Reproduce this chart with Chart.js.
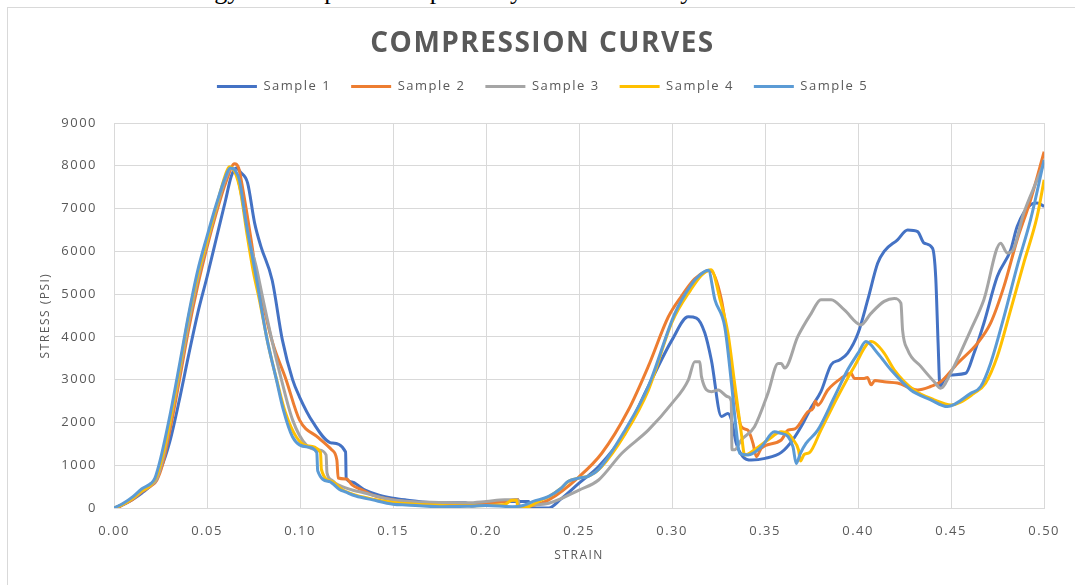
<!DOCTYPE html>
<html>
<head>
<meta charset="utf-8">
<script src="https://cdn.jsdelivr.net/npm/chart.js@4.4.1/dist/chart.umd.min.js"></script>
<style>
html, body { margin: 0; padding: 0; background: #fff; overflow: hidden; }
#frame { position: absolute; left: 7px; top: 7px; width: 1100px; height: 620px; border: 1px solid #d9d9d9; }
#cut { position: absolute; left: 0; top: -24px; width: 1075px; height: 40px; font: 26px "Liberation Serif", serif; color: #000; }
#cut span { position: absolute; top: 0; white-space: nowrap; }
#wrap { position: absolute; left: 0; top: 0; width: 1075px; height: 585px; }
</style>
</head>
<body>
<div id="cut"><span style="left:170px">energy</span> <span style="left:268px">absorption</span> <span style="left:385px">compared</span> <span style="left:497px">by</span> <span style="left:560px">the</span> <span style="left:647px">very</span></div>
<div id="frame"></div>
<div id="wrap"><canvas id="compChart"></canvas></div>
<script>
// values
var sampleNames = ['Sample 1', 'Sample 2', 'Sample 3', 'Sample 4', 'Sample 5'];
var sampleColors = ['#4472C4', '#ED7D31', '#A5A5A5', '#FFC000', '#5B9BD5'];

var s1Strain = [0,0.005,0.01,0.015,0.021,0.025,0.03,0.035,0.04,0.045,0.05,0.055,0.06,0.063,0.0657,0.068,0.0718,0.0756,0.079,0.085,0.0905,0.096,0.0997,0.107,0.117,0.1245,0.1248,0.128,0.132,0.135,0.1425,0.15,0.157,0.175,0.189,0.192,0.2,0.2085,0.223,0.2235,0.2337,0.24,0.25,0.2605,0.2747,0.2872,0.30,0.3087,0.3131,0.3176,0.3211,0.3265,0.33,0.3319,0.3345,0.3381,0.3426,0.35,0.3587,0.365,0.370,0.3748,0.380,0.3855,0.390,0.3944,0.40,0.4052,0.4105,0.414,0.4212,0.4266,0.432,0.4355,0.44,0.4417,0.443,0.444,0.4462,0.4497,0.4578,0.4623,0.4676,0.4748,0.482,0.4855,0.4927,0.4962,0.50];
var s1Stress = [0,80,200,350,585,900,1550,2500,3550,4550,5400,6300,7200,7750,7950,7850,7600,6660,6110,5330,3930,3000,2600,2000,1520,1310,695,610,500,420,300,230,190,115,125,45,100,150,150,0,0,200,580,970,1750,2840,3930,4470,4440,4090,3460,2140,2210,2060,1510,1200,1120,1160,1300,1600,1950,2350,2720,3350,3460,3620,4090,4870,5720,6000,6270,6500,6460,6190,6070,5410,3850,2840,3000,3110,3150,3620,4320,5410,6030,6580,7090,7130,7050];

var s2Strain = [0.002,0.005,0.01,0.015,0.02,0.023,0.026,0.03,0.035,0.04,0.045,0.05,0.055,0.06,0.0648,0.067,0.0693,0.0737,0.0764,0.08,0.085,0.0925,0.0997,0.110,0.117,0.1198,0.1205,0.125,0.128,0.1335,0.139,0.15,0.164,0.18,0.19,0.2,0.21,0.2172,0.2178,0.225,0.2337,0.25,0.2622,0.2765,0.2872,0.298,0.305,0.312,0.318,0.3205,0.3265,0.3319,0.3372,0.3408,0.3435,0.3453,0.348,0.3587,0.3623,0.366,0.373,0.376,0.377,0.3783,0.3837,0.3908,0.3962,0.398,0.4033,0.405,0.407,0.409,0.414,0.4212,0.432,0.439,0.4444,0.4534,0.4641,0.4712,0.4784,0.4855,0.4927,0.50];
var s2Stress = [0,80,200,380,520,650,1000,1800,2950,4150,5200,6100,6900,7600,8050,7950,7440,6270,5490,4800,3900,3000,2060,1640,1360,1120,700,680,540,420,300,190,120,90,80,110,150,200,30,60,190,730,1280,2290,3310,4470,4950,5350,5530,5550,4870,3310,1900,1820,1510,1200,1400,1590,1820,1850,2250,2350,2500,2400,2760,3030,3150,3030,3030,3050,2880,2980,2950,2920,2760,2840,2950,3380,3850,4320,5180,6270,7200,8330];

var s3Strain = [0,0.005,0.01,0.015,0.02,0.023,0.026,0.03,0.035,0.04,0.045,0.05,0.055,0.06,0.063,0.066,0.069,0.073,0.0764,0.08,0.085,0.09,0.096,0.1034,0.110,0.114,0.1145,0.117,0.119,0.128,0.132,0.15,0.178,0.19,0.2,0.21,0.2172,0.2178,0.222,0.2337,0.25,0.2605,0.273,0.2872,0.30,0.3087,0.3122,0.3149,0.3158,0.3211,0.3248,0.330,0.3318,0.3322,0.3336,0.3372,0.3443,0.3515,0.357,0.3587,0.3605,0.3676,0.3748,0.380,0.3855,0.3926,0.4015,0.4069,0.414,0.4194,0.423,0.4239,0.4266,0.4337,0.4409,0.4444,0.4497,0.4605,0.4676,0.4766,0.4802,0.4828,0.489,0.4962,0.50];
var s3Stress = [0,90,220,390,540,680,1100,1950,3100,4300,5350,6200,7000,7700,7950,7800,7200,6200,5650,4900,3900,3000,2060,1470,1360,1240,820,655,580,420,380,190,130,120,150,190,190,20,60,110,420,655,1280,1820,2450,2990,3420,3420,3070,2720,2760,2600,2500,1360,1360,1590,1900,2680,3380,3380,3270,4010,4550,4870,4870,4630,4280,4550,4830,4900,4790,4160,3700,3310,2950,2800,3150,4160,4870,6190,5960,6000,6890,7670,8080];

var s4Strain = [0,0.005,0.01,0.015,0.02,0.023,0.026,0.03,0.035,0.04,0.045,0.05,0.055,0.06,0.062,0.065,0.068,0.0715,0.075,0.078,0.083,0.088,0.092,0.098,0.104,0.111,0.1115,0.117,0.123,0.13,0.14,0.15,0.17,0.19,0.2,0.21,0.214,0.2165,0.217,0.222,0.228,0.235,0.24,0.245,0.25,0.256,0.262,0.275,0.2872,0.30,0.31,0.316,0.321,0.3258,0.330,0.3336,0.3372,0.339,0.3443,0.3515,0.3587,0.362,0.365,0.368,0.369,0.371,0.374,0.380,0.389,0.398,0.407,0.409,0.414,0.4194,0.430,0.4409,0.45,0.4623,0.4685,0.4748,0.482,0.489,0.4962,0.50];
var s4Stress = [0,90,230,400,550,750,1200,2000,3200,4450,5450,6250,7050,7800,7980,7850,7400,6400,5500,4900,3800,2900,2250,1660,1450,1300,900,620,420,300,200,130,70,50,60,80,180,180,10,20,150,300,450,640,700,760,960,1750,2750,4350,5100,5450,5570,4870,4090,2920,1750,1240,1360,1590,1780,1750,1600,1350,1100,1250,1300,1820,2600,3310,3890,3860,3620,3230,2760,2530,2410,2680,2920,3540,4630,5720,6810,7670];

var s5Strain = [0,0.005,0.01,0.015,0.02,0.022,0.025,0.03,0.035,0.04,0.045,0.05,0.055,0.06,0.0625,0.065,0.0675,0.071,0.0747,0.0773,0.082,0.0873,0.091,0.096,0.1034,0.109,0.1095,0.1157,0.121,0.1247,0.13,0.139,0.15,0.157,0.175,0.19,0.2,0.214,0.22,0.225,0.2337,0.24,0.244,0.25,0.255,0.2605,0.2747,0.2872,0.3015,0.31,0.315,0.3195,0.323,0.3283,0.3319,0.3345,0.3363,0.3408,0.348,0.355,0.358,0.3623,0.365,0.3667,0.369,0.372,0.3783,0.3873,0.3944,0.40,0.4042,0.4105,0.4176,0.4283,0.439,0.448,0.4605,0.4659,0.4712,0.4784,0.4855,0.4927,0.50];
var s5Stress = [0,110,260,450,580,700,1150,2150,3300,4500,5550,6350,7100,7750,7950,7900,7650,6660,5800,5180,4000,3000,2300,1660,1430,1300,870,620,440,370,280,190,90,70,30,40,60,30,60,150,270,450,620,700,740,900,1820,2840,4550,5200,5450,5560,4870,4240,2920,1820,1280,1240,1430,1780,1750,1670,1430,1040,1280,1510,1820,2600,3230,3620,3890,3620,3230,2760,2530,2370,2680,2840,3380,4470,5650,6740,8140];

var strainTicks = [0, 0.05, 0.10, 0.15, 0.20, 0.25, 0.30, 0.35, 0.40, 0.45, 0.50];
var stressTicks = [0, 1000, 2000, 3000, 4000, 5000, 6000, 7000, 8000, 9000];

var allStrain = [s1Strain, s2Strain, s3Strain, s4Strain, s5Strain];
var allStress = [s1Stress, s2Stress, s3Stress, s4Stress, s5Stress];

function toPoints(xs, ys) {
    var pts = [];
    for (var i = 0; i < xs.length; i++) {
        pts.push({ x: xs[i], y: ys[i] });
    }
    return pts;
}

var datasets = sampleNames.map(function (name, i) {
    return {
        label: name,
        data: toPoints(allStrain[i], allStress[i]),
        borderColor: sampleColors[i],
        backgroundColor: sampleColors[i],
        borderWidth: 3,
        pointRadius: 0,
        cubicInterpolationMode: 'monotone',
        order: sampleNames.length - i   // later samples drawn on top, like Excel
    };
});

// the reference text is letter-spaced a bit
var letterSpacing = {
    id: 'letterSpacing',
    beforeLayout: function (chart) { chart.ctx.letterSpacing = '1.5px'; },
    beforeDraw: function (chart) { chart.ctx.letterSpacing = '1.5px'; }
};

Chart.defaults.font.family = "'Open Sans', sans-serif";
Chart.defaults.color = '#595959';

var ctx = document.getElementById('compChart').getContext('2d');
var compChart = new Chart(ctx, {
    type: 'line',
    data: { datasets: datasets },
    plugins: [letterSpacing],
    options: {
        responsive: true,
        maintainAspectRatio: false,
        animation: false,
        layout: { padding: { left: 38, right: 28, top: 0, bottom: 0 } },
        plugins: {
            title: {
                display: true,
                text: 'COMPRESSION CURVES',
                color: '#595959',
                font: { size: 28, weight: 'bold', lineHeight: 1 },
                padding: { top: 30, bottom: 2 }
            },
            // empty subtitle used as a spacer between legend and plot
            subtitle: {
                display: true,
                text: '',
                weight: 500,
                font: { size: 20, lineHeight: 1 },
                padding: 0
            },
            legend: {
                position: 'top',
                labels: {
                    sort: function (a, b) { return a.datasetIndex - b.datasetIndex; },
                    usePointStyle: true,
                    pointStyle: 'line',
                    pointStyleWidth: 40,
                    padding: 20,
                    color: '#595959',
                    font: { size: 13 }
                }
            },
            tooltip: { enabled: false }
        },
        scales: {
            x: {
                type: 'linear',
                min: 0,
                max: 0.5,
                afterFit: function (scale) { scale.height = 77; },
                afterBuildTicks: function (scale) {
                    scale.ticks = strainTicks.map(function (v) { return { value: v }; });
                },
                ticks: {
                    padding: 15,
                    font: { size: 13 },
                    color: '#595959',
                    callback: function (v) { return Number(v).toFixed(2); }
                },
                grid: { color: '#d9d9d9', drawTicks: false },
                border: { color: '#d9d9d9' },
                title: {
                    display: true,
                    text: 'STRAIN',
                    color: '#595959',
                    font: { size: 12 },
                    padding: { top: 0, bottom: 22 }
                }
            },
            y: {
                min: 0,
                max: 9000,
                afterFit: function (scale) { scale.width = 76; },
                afterBuildTicks: function (scale) {
                    scale.ticks = stressTicks.map(function (v) { return { value: v }; });
                },
                ticks: {
                    padding: 17,
                    font: { size: 13 },
                    color: '#595959',
                    callback: function (v) { return String(v); }
                },
                grid: { color: '#d9d9d9', drawTicks: false },
                border: { color: '#d9d9d9' },
                title: {
                    display: true,
                    text: 'STRESS (PSI)',
                    color: '#595959',
                    font: { size: 12 },
                    padding: { top: 0, bottom: 0 }
                }
            }
        }
    }
});
</script>
</body>
</html>
